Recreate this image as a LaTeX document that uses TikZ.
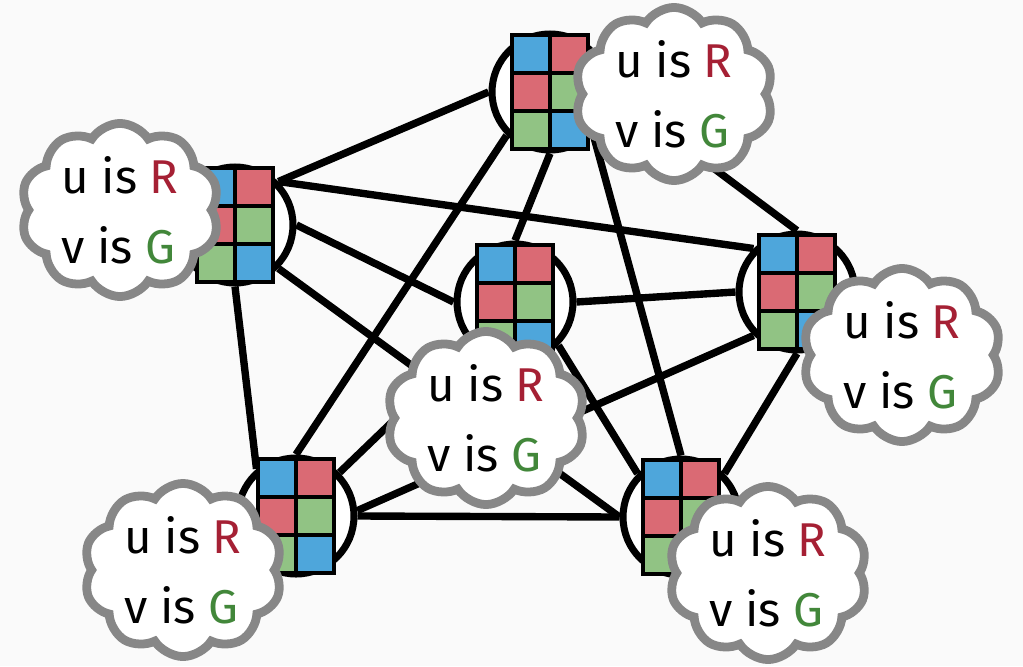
\documentclass[tikz,border=0pt]{standalone}
\usepackage{fontspec}
\setmainfont{Fira Sans}
\usetikzlibrary{calc}
\usetikzlibrary{shapes.symbols}

\definecolor{cellblue}{RGB}{78,166,219}
\definecolor{cellred}{RGB}{218,106,116}
\definecolor{cellgreen}{RGB}{145,195,132}
\definecolor{valred}{RGB}{165,32,52}
\definecolor{valgreen}{RGB}{66,135,58}
\definecolor{cloudgray}{RGB}{135,135,135}
\definecolor{paper}{RGB}{250,250,250}

\begin{document}
\begin{tikzpicture}[x=0.02cm,y=-0.02cm,
		vtx/.style={circle,draw,fill=white,line width=4pt,minimum size=2.32cm,inner sep=0pt},
		edge/.style={line width=4.2pt},
		thought/.style={cloud,cloud puffs=10,cloud puff arc=115,cloud ignores aspect,draw=cloudgray,fill=white,line width=5pt,minimum width=3.98cm,minimum height=3.45cm,inner sep=0pt,align=left,font=\fontsize{27}{40}\selectfont}]
		\fill[paper] (0,0) rectangle (1023,666);
		\useasboundingbox (0,0) rectangle (1023,666);

		% Define the vertices
		\node[vtx] (t) at (550,92) {};
		\node[vtx] (l) at (235,225) {};
		\node[vtx] (c) at (515,302) {};
		\node[vtx] (r) at (797,292) {};
		\node[vtx] (bl) at (296,516) {};
		\node[vtx] (br) at (681,517) {};

		% Draw the lines
		\foreach \a/\b in {t.west/l.north east,t.south/c.north,t.east/r.north,t.south west/bl.north,t.south east/br.north,
				l.north east/r.north west,l.east/c.west,l.south/bl.130,l.south east/br.west,
				c.east/r.west,c.south west/bl.north east,c.south east/br.north west,
				r.south west/bl.5,r.south/br.north east,bl.east/br.west}
		\draw[edge] (\a) -- (\b);

		% Colour grid on every vertex
		\foreach \v in {t,l,c,r,bl,br}
		\foreach \col/\row/\clr in {0/0/cellblue,1/0/cellred,0/1/cellred,1/1/cellgreen,0/2/cellgreen,1/2/cellblue}
		\filldraw[fill=\clr,line width=2.3pt] ($(\v)+(-38+38*\col,-57+38*\row)$) rectangle +(38,38);

		% Thought clouds
		\node[thought] (tt) at (674,94) {u is \textcolor{valred}{R}\\v is \textcolor{valgreen}{G}};
		\node[thought] (lt) at (120,210) {u is \textcolor{valred}{R}\\v is \textcolor{valgreen}{G}};
		\node[thought] (ct) at (486,418) {u is \textcolor{valred}{R}\\v is \textcolor{valgreen}{G}};
		\node[thought] (rt) at (902,355) {u is \textcolor{valred}{R}\\v is \textcolor{valgreen}{G}};
		\node[thought] (blt) at (183,570) {u is \textcolor{valred}{R}\\v is \textcolor{valgreen}{G}};
		\node[thought] (brt) at (768,573) {u is \textcolor{valred}{R}\\v is \textcolor{valgreen}{G}};
	\end{tikzpicture}
\end{document}
